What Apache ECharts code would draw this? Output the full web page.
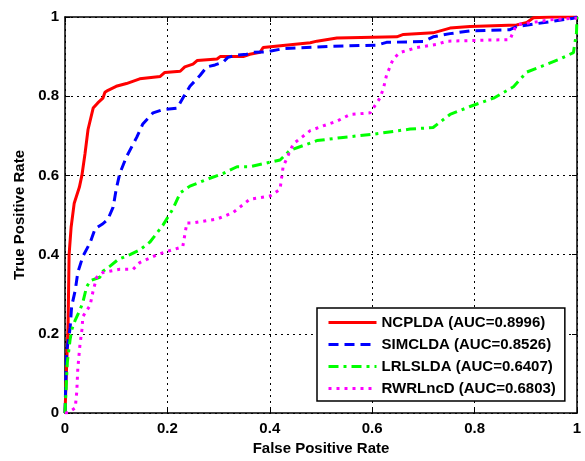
<!DOCTYPE html>
<html>
<head>
<meta charset="utf-8">
<script src="https://cdn.jsdelivr.net/npm/echarts@6/dist/echarts.min.js"></script>
<style>
  html, body { margin: 0; padding: 0; background: #fff; }
  #main { width: 585px; height: 461px; }
</style>
</head>
<body>
<div id="main"></div>
<script>
// ROC curves, [FPR, TPR] pairs
var ncplda = [
  [0,0],[0.004,0.15],[0.006,0.22],[0.008,0.40],[0.012,0.47],[0.018,0.53],[0.028,0.57],
  [0.033,0.60],[0.039,0.654],[0.045,0.716],[0.055,0.77],[0.064,0.783],[0.074,0.795],
  [0.078,0.81],[0.084,0.815],[0.10,0.825],[0.12,0.832],[0.146,0.844],[0.186,0.85],
  [0.195,0.86],[0.225,0.863],[0.234,0.874],[0.25,0.881],[0.258,0.89],[0.297,0.894],
  [0.303,0.9],[0.348,0.9],[0.361,0.906],[0.381,0.911],[0.387,0.923],[0.479,0.935],
  [0.492,0.939],[0.531,0.947],[0.648,0.95],[0.661,0.956],[0.719,0.96],[0.752,0.972],
  [0.791,0.976],[0.882,0.98],[0.902,0.986],[0.915,0.998],[0.95,1],[1,1]
];
var simclda = [
  [0,0],[0.003,0.153],[0.01,0.215],[0.013,0.27],[0.02,0.31],[0.025,0.355],[0.035,0.396],
  [0.049,0.43],[0.059,0.466],[0.074,0.478],[0.084,0.49],[0.094,0.52],[0.10,0.565],
  [0.107,0.605],[0.12,0.647],[0.14,0.696],[0.152,0.73],[0.172,0.758],[0.191,0.766],
  [0.219,0.77],[0.23,0.795],[0.244,0.825],[0.264,0.853],[0.277,0.874],[0.293,0.879],
  [0.309,0.886],[0.318,0.898],[0.336,0.904],[0.355,0.906],[0.367,0.911],[0.394,0.912],
  [0.426,0.92],[0.524,0.926],[0.609,0.929],[0.628,0.936],[0.7,0.938],[0.719,0.95],
  [0.752,0.958],[0.791,0.965],[0.869,0.968],[0.882,0.976],[0.947,0.988],[0.993,0.997],[1,1]
];
var lrlslda = [
  [0,0],[0.0045,0.128],[0.01,0.186],[0.013,0.21],[0.02,0.235],[0.029,0.26],[0.035,0.28],
  [0.042,0.318],[0.049,0.334],[0.068,0.343],[0.074,0.358],[0.088,0.371],[0.104,0.388],
  [0.127,0.40],[0.146,0.412],[0.166,0.432],[0.191,0.474],[0.211,0.516],[0.225,0.556],
  [0.244,0.573],[0.283,0.593],[0.309,0.605],[0.336,0.622],[0.361,0.622],[0.42,0.639],
  [0.439,0.663],[0.492,0.688],[0.543,0.696],[0.602,0.704],[0.674,0.717],[0.719,0.721],
  [0.752,0.754],[0.791,0.774],[0.837,0.795],[0.876,0.824],[0.902,0.861],[0.934,0.877],
  [0.967,0.894],[0.993,0.91],[0.999,0.96],[1,1]
];
var rwrlncd = [
  [0,0],[0.006,0.001],[0.02,0.013],[0.023,0.054],[0.025,0.112],[0.029,0.17],[0.033,0.21],
  [0.035,0.244],[0.049,0.272],[0.055,0.309],[0.062,0.343],[0.074,0.355],[0.107,0.363],
  [0.133,0.363],[0.146,0.38],[0.18,0.40],[0.199,0.408],[0.23,0.42],[0.238,0.48],
  [0.25,0.48],[0.297,0.49],[0.328,0.506],[0.361,0.54],[0.40,0.548],[0.42,0.565],
  [0.426,0.622],[0.446,0.68],[0.479,0.713],[0.504,0.725],[0.531,0.737],[0.557,0.754],
  [0.596,0.758],[0.615,0.795],[0.622,0.82],[0.628,0.853],[0.641,0.894],[0.654,0.91],
  [0.687,0.923],[0.726,0.931],[0.746,0.939],[0.869,0.943],[0.876,0.964],[0.882,0.98],
  [0.947,0.993],[1,0.997]
];
var seriesNames = ['NCPLDA (AUC=0.8996)', 'SIMCLDA (AUC=0.8526)', 'LRLSLDA (AUC=0.6407)', 'RWRLncD (AUC=0.6803)'];
var ticks = [0, 0.2, 0.4, 0.6, 0.8, 1];

var font = 'Liberation Sans, Arial, sans-serif';
var myChart = echarts.init(document.getElementById('main'));

function fmt(v) { return ticks.indexOf(v) >= 0 ? String(v) : ''; }

var gridLine = { show: true, lineStyle: { color: '#000', type: [2, 4], width: 1 } };
var baseAxis = {
  type: 'value', min: 0, max: 1, interval: 0.2,
  axisLine: { show: true, onZero: false, lineStyle: { color: '#000', width: 1.5 } },
  axisTick: { show: true, inside: true, length: 5, lineStyle: { color: '#000' } }
};

function line(name, data, color, type) {
  return {
    name: name, type: 'line', data: data, symbol: 'none', showSymbol: false,
    smooth: false, animation: false, color: color,
    lineStyle: { color: color, width: 3, type: type, cap: 'butt' }
  };
}

var option = {
  backgroundColor: '#fff',
  animation: false,
  grid: { left: 65, right: 8, top: 17, bottom: 39 },
  legend: {
    orient: 'vertical', left: 317, top: 308,
    padding: [7, 9, 5, 10], itemGap: 7, itemWidth: 48, itemHeight: 15,
    backgroundColor: '#fff', borderColor: '#000', borderWidth: 1.5, borderRadius: 0,
    itemStyle: { opacity: 0 },
    lineStyle: { opacity: 1, width: 3 },
    textStyle: { fontFamily: font, fontWeight: 'bold', fontSize: 15, color: '#000' },
    data: seriesNames
  },
  xAxis: [
    Object.assign({}, baseAxis, {
      position: 'bottom',
      name: 'False Positive Rate', nameLocation: 'middle', nameGap: 26,
      nameTextStyle: { fontFamily: font, fontWeight: 'bold', fontSize: 15, color: '#000' },
      axisLabel: { fontFamily: font, fontWeight: 'bold', fontSize: 15, color: '#000', margin: 8, formatter: fmt },
      splitLine: gridLine
    }),
    Object.assign({}, baseAxis, { position: 'top', axisLabel: { show: false }, splitLine: { show: false } })
  ],
  yAxis: [
    Object.assign({}, baseAxis, {
      position: 'left',
      name: 'True Positive Rate', nameLocation: 'middle', nameGap: 36,
      nameTextStyle: { fontFamily: font, fontWeight: 'bold', fontSize: 15, color: '#000' },
      axisLabel: { fontFamily: font, fontWeight: 'bold', fontSize: 15, color: '#000', margin: 6, formatter: fmt },
      splitLine: gridLine
    }),
    Object.assign({}, baseAxis, { position: 'right', axisLabel: { show: false }, splitLine: { show: false } })
  ],
  series: [
    line(seriesNames[0], ncplda, '#ff0000', 'solid'),
    line(seriesNames[1], simclda, '#0000ff', [10, 6]),
    line(seriesNames[2], lrlslda, '#00ff00', [10, 5, 3, 5]),
    line(seriesNames[3], rwrlncd, '#ff00ff', [3, 5])
  ]
};
myChart.setOption(option);
</script>
</body>
</html>
